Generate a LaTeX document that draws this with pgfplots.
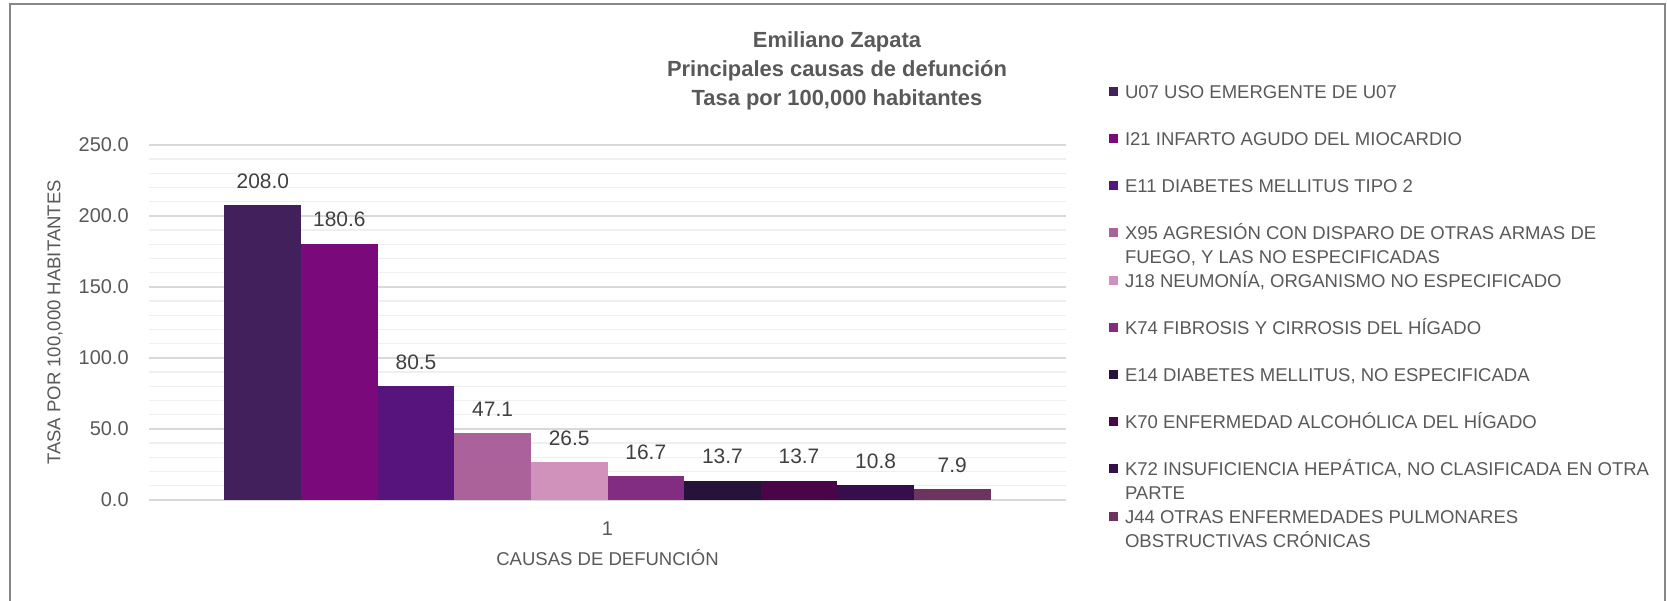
\documentclass[border=0pt]{standalone}
\usepackage{pgfplots}
\pgfplotsset{compat=1.18}
\usepackage{fontspec}
\setmainfont{Liberation Sans}
\definecolor{txt}{HTML}{595959}
\definecolor{lbl}{HTML}{404040}
\definecolor{gmaj}{HTML}{D9D9D9}
\definecolor{gmin}{HTML}{EFEFEF}
\definecolor{bord}{HTML}{878787}
\definecolor{cA}{HTML}{41205C}
\definecolor{cB}{HTML}{7A0A7C}
\definecolor{cC}{HTML}{57147C}
\definecolor{cD}{HTML}{AB629B}
\definecolor{cE}{HTML}{D091BB}
\definecolor{cF}{HTML}{832D82}
\definecolor{cG}{HTML}{27133A}
\definecolor{cH}{HTML}{4A0548}
\definecolor{cI}{HTML}{360E4C}
\definecolor{cJ}{HTML}{6D345F}
\begin{document}
\begin{tikzpicture}
\fill[white] (0,0) rectangle (833.5bp,300.5bp);
\draw[bord, line width=1bp] (5bp,-5bp) -- (5bp,298.5bp) -- (832.5bp,298.5bp) -- (832.5bp,-5bp);
\begin{axis}[
  at={(74.5bp,50.5bp)}, anchor=south west,
  scale only axis, width=458.5bp, height=177.5bp,
  ybar=0pt, bar width=38.3bp,
  xmin=0, xmax=2, ymin=0, ymax=250,
  xtick={1}, xticklabels={1},
  ytick={0,50,100,150,200,250},
  minor ytick={10,20,30,40,60,70,80,90,110,120,130,140,160,170,180,190,210,220,230,240},
  ymajorgrids, yminorgrids,
  major grid style={draw=gmaj, line width=0.7bp},
  minor grid style={draw=gmin, line width=0.7bp},
  axis line style={draw=none},
  major tick style={draw=none}, minor tick style={draw=none},
  ticklabel style={font=\fontsize{10}{12}\selectfont, text=txt},
  yticklabel style={inner sep=0pt, xshift=-10bp, /pgf/number format/fixed, /pgf/number format/fixed zerofill, /pgf/number format/precision=1, /pgf/number format/1000 sep={}, /pgf/number format/assume math mode=true},
  xticklabel style={inner sep=0pt, yshift=-6.5bp},
  ylabel={TASA POR 100,000 HABITANTES},
  ylabel style={at={(axis description cs:-0.1025,0.5)}, anchor=center, font=\fontsize{9.3}{11}\selectfont, text=txt},
  xlabel={CAUSAS DE DEFUNCIÓN},
  xlabel style={at={(axis description cs:0.5,-0.1859)}, anchor=base, inner sep=0pt, font=\fontsize{9.3}{11}\selectfont, text=txt},
  nodes near coords,
  nodes near coords style={/pgf/number format/fixed, /pgf/number format/fixed zerofill, /pgf/number format/precision=1, /pgf/number format/assume math mode=true, font=\fontsize{10.5}{12}\selectfont, text=lbl, inner sep=0pt, anchor=south, yshift=8bp},
  legend cell align=left,
  legend style={at={(axis description cs:1.04689,1.2104)}, anchor=north west, draw=none, fill=none, inner sep=0pt, outer sep=0pt, row sep=0pt, column sep=3.5bp, font=\fontsize{9.3}{12}\selectfont, text=txt, nodes={inner sep=0pt, text height=14bp, text depth=9.6bp, anchor=base west}},
  legend image code/.code={\fill[#1] (0bp,1.25bp) rectangle (4.5bp,5.75bp);},
]
\addplot[fill=cA, draw=none] coordinates {(1,208.0)};
\addlegendentry{U07 USO EMERGENTE DE U07}
\addplot[fill=cB, draw=none] coordinates {(1,180.6)};
\addlegendentry{I21 INFARTO AGUDO DEL MIOCARDIO}
\addplot[fill=cC, draw=none] coordinates {(1,80.5)};
\addlegendentry{E11 DIABETES MELLITUS TIPO 2}
\addplot[fill=cD, draw=none] coordinates {(1,47.1)};
\addlegendentry{\parbox[t]{270bp}{X95 AGRESIÓN CON DISPARO DE OTRAS ARMAS DE\newline FUEGO, Y LAS NO ESPECIFICADAS}}
\addplot[fill=cE, draw=none] coordinates {(1,26.5)};
\addlegendentry{J18 NEUMONÍA, ORGANISMO NO ESPECIFICADO}
\addplot[fill=cF, draw=none] coordinates {(1,16.7)};
\addlegendentry{K74 FIBROSIS Y CIRROSIS DEL HÍGADO}
\addplot[fill=cG, draw=none] coordinates {(1,13.7)};
\addlegendentry{E14 DIABETES MELLITUS, NO ESPECIFICADA}
\addplot[fill=cH, draw=none] coordinates {(1,13.7)};
\addlegendentry{K70 ENFERMEDAD ALCOHÓLICA DEL HÍGADO}
\addplot[fill=cI, draw=none] coordinates {(1,10.8)};
\addlegendentry{\parbox[t]{270bp}{K72 INSUFICIENCIA HEPÁTICA, NO CLASIFICADA EN OTRA\newline PARTE}}
\addplot[fill=cJ, draw=none] coordinates {(1,7.9)};
\addlegendentry{\parbox[t]{270bp}{J44 OTRAS ENFERMEDADES PULMONARES\newline OBSTRUCTIVAS CRÓNICAS}}
\end{axis}
\begin{scope}[font=\fontsize{11}{13}\selectfont\bfseries, text=txt, inner sep=0pt]
\node[anchor=base] at (418.5bp,276.55bp) {Emiliano Zapata};
\node[anchor=base] at (418.5bp,262.15bp) {Principales causas de defunción};
\node[anchor=base] at (418.5bp,247.75bp) {Tasa por 100,000 habitantes};
\end{scope}
\pgfresetboundingbox
\useasboundingbox (0,0) rectangle (833.5bp,300.5bp);
\end{tikzpicture}
\end{document}
